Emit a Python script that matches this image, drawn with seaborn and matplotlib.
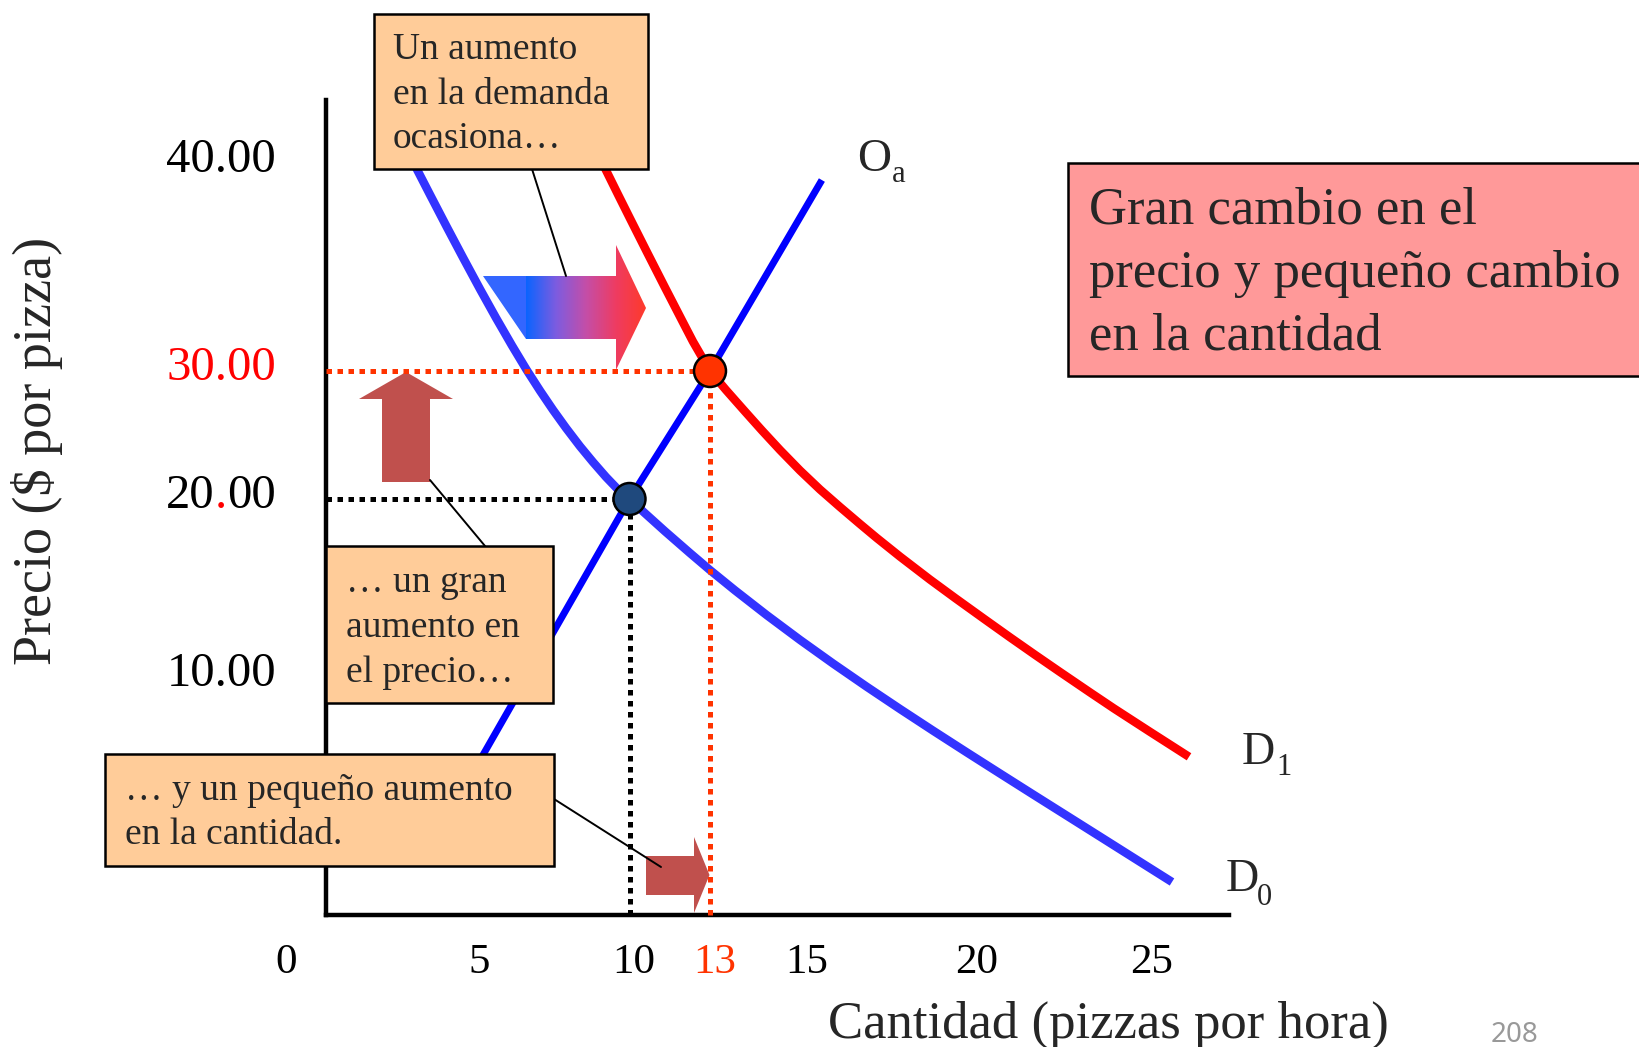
import numpy as np
import matplotlib
matplotlib.use('Agg')
import matplotlib.pyplot as plt
from matplotlib.colors import LinearSegmentedColormap
from matplotlib.patches import Polygon, Rectangle
from matplotlib.transforms import Affine2D
import seaborn as sns

# Values: quantity (pizzas per hour) and price ($ per pizza)
d0_qty = [2.727, 3.108, 3.502, 4.064, 4.613, 5.177, 5.694, 6.210, 6.684, 7.113, 7.532,
          7.952, 8.403, 8.823, 9.242, 9.629, 10.0, 10.578, 11.323, 12.255, 13.0, 13.541,
          14.226, 14.946, 15.906, 16.888, 17.868, 18.847, 19.829, 20.786, 21.737, 22.691,
          23.643, 24.671, 25.700]
d0_price = [40.625, 39.567, 38.476, 36.933, 35.452, 33.938, 32.553, 31.221, 30.048, 28.461,
            26.961, 25.547, 24.117, 22.883, 21.719, 20.742, 20.0, 19.197, 18.185, 16.961,
            16.006, 14.865, 13.478, 12.084, 10.747, 9.592, 8.655, 7.739, 6.836, 5.945,
            5.059, 4.176, 3.294, 2.340, 1.387]

d1_qty = [8.919, 9.265, 9.629, 10.019, 10.652, 11.323, 11.994, 12.366, 13.0, 13.346, 13.757,
          14.124, 14.514, 14.946, 15.515, 16.103, 16.691, 17.185, 17.868, 18.750, 19.512,
          20.357, 21.071, 21.786, 22.5, 23.357, 24.043, 25.071, 26.186]
d1_price = [40.625, 39.582, 38.486, 37.332, 35.712, 34.014, 32.337, 31.413, 30.0, 28.516,
            26.836, 25.352, 23.828, 22.227, 20.742, 19.551, 18.596, 17.809, 16.764, 15.472,
            14.404, 13.230, 12.230, 11.247, 10.281, 9.353, 8.676, 7.697, 6.647]

oa_qty = [4.61, 10.0, 13.0, 15.57]
oa_price = [5.25, 20.0, 30.0, 39.18]

eq_qty = [10, 13]
eq_price = [20, 30]
eq_names = ['inicial', 'final']

x_ticks = [0, 5, 10, 13, 15, 20, 25]
x_tick_labels = ['0', '5', '10', '13', '15', '20', '25']
x_tick_colors = ['black', 'black', 'black', '#ff3300', 'black', 'black', 'black']
y_ticks = [10, 20, 30, 40]
y_tick_labels = ['10.00', '20.00', '30.00', '40.00']
y_tick_colors = ['black', 'black', '#ff0000', 'black']

# Canvas size and where the tick values sit on the slide (the drawing is not to scale)
W, H = 1639, 1047
X_PX = [326, 474.5, 629.5, 710, 802.5, 972.5, 1147.5]
Y_PX = [915, 677, 499, 371, 163]

sns.set_style('white')
plt.rcParams['font.family'] = ['Liberation Serif', 'DejaVu Serif']


def lin_ext(v, xs, ys):
    # piecewise linear with straight extrapolation at both ends
    v = np.asarray(v, dtype=float)
    xs = np.asarray(xs, dtype=float)
    ys = np.asarray(ys, dtype=float)
    out = np.interp(v, xs, ys)
    lo = (ys[1] - ys[0]) / (xs[1] - xs[0])
    hi = (ys[-1] - ys[-2]) / (xs[-1] - xs[-2])
    out = np.where(v < xs[0], ys[0] + (v - xs[0]) * lo, out)
    out = np.where(v > xs[-1], ys[-1] + (v - xs[-1]) * hi, out)
    return out


y_up = [H - p for p in Y_PX]
fx = lambda v: lin_ext(v, x_ticks, X_PX)
fx_inv = lambda p: lin_ext(p, X_PX, x_ticks)
fy = lambda v: lin_ext(v, [0] + y_ticks, y_up)
fy_inv = lambda p: lin_ext(p, y_up, [0] + y_ticks)

fig = plt.figure(figsize=(W / 100, H / 100), dpi=100)
ax = fig.add_axes([0, 0, 1, 1])
ax.set_facecolor('white')

# Curves
sns.lineplot(x=d0_qty, y=d0_price, ax=ax, color='#3333ff', linewidth=6.1, sort=False,
             estimator=None, solid_capstyle='butt', solid_joinstyle='round', zorder=2)
sns.lineplot(x=d1_qty, y=d1_price, ax=ax, color='#ff0000', linewidth=6.1, sort=False,
             estimator=None, solid_capstyle='butt', solid_joinstyle='round', zorder=2)
sns.lineplot(x=oa_qty, y=oa_price, ax=ax, color='#0000ff', linewidth=5.0, sort=False,
             estimator=None, solid_capstyle='butt', zorder=3)

# Dotted guides to the axes
dots = (0, (1.1, 1.1))
for q, p, c in zip(eq_qty, eq_price, ['black', '#ff3300']):
    ax.plot([0, q], [p, p], color=c, lw=3.6, ls=dots, dash_capstyle='butt', zorder=4)
    ax.plot([q, q], [0, p], color=c, lw=3.6, ls=dots, dash_capstyle='butt', zorder=4)

sns.scatterplot(x=eq_qty, y=eq_price, hue=eq_names, palette=['#1f497d', '#ff3300'], s=530,
                edgecolor='black', linewidth=1.8, legend=False, zorder=5, ax=ax)

ax.set_xscale('function', functions=(fx, fx_inv))
ax.set_yscale('function', functions=(fy, fy_inv))
ax.set_xlim(float(fx_inv(0)), float(fx_inv(W)))
ax.set_ylim(float(fy_inv(0)), float(fy_inv(H)))
ax.set_xticks([])
ax.set_yticks([])
ax.set_xlabel('')
ax.set_ylabel('')

for side in ['top', 'right']:
    ax.spines[side].set_visible(False)
for side in ['left', 'bottom']:
    ax.spines[side].set_position(('data', 0))
    ax.spines[side].set_linewidth(3.2)
    ax.spines[side].set_color('black')
    ax.spines[side].set_capstyle('projecting')
ax.spines['left'].set_bounds(0, float(fy_inv(H - 99.5)))
ax.spines['bottom'].set_bounds(0, float(fx_inv(1229)))

# Tick labels
for v, lab, col in zip(x_ticks, x_tick_labels, x_tick_colors):
    dx = -39.5 if v == 0 else 4.5
    ax.annotate(lab, xy=(v, 0), xytext=(dx, -58), textcoords='offset pixels',
                ha='center', va='baseline', fontsize=31, color=col)

for v, lab, col in zip(y_ticks, y_tick_labels, y_tick_colors):
    if lab == '20.00':
        t = ax.annotate('00', xy=(0, v), xytext=(-50, -8.5), textcoords='offset pixels',
                        ha='right', va='baseline', fontsize=35, color=col)
        t = ax.annotate('.', xy=(0, 0), xycoords=t, ha='right', va='bottom',
                        fontsize=35, color='#ff0000')
        ax.annotate('20', xy=(0, 0), xycoords=t, ha='right', va='bottom',
                    fontsize=35, color=col)
    else:
        ax.annotate(lab, xy=(0, v), xytext=(-50, -8.5), textcoords='offset pixels',
                    ha='right', va='baseline', fontsize=35, color=col)

# Slide decorations, in pixel coordinates (y down)
PX = Affine2D().scale(1 / W, -1 / H).translate(0, 1) + ax.transAxes


def label(x, y, s, size, **kw):
    ax.text(x, y, s, transform=PX, fontsize=size, va='baseline', zorder=7, clip_on=False, **kw)


def box(x0, y0, x1, y1, fc):
    ax.add_patch(Rectangle((x0, y0), x1 - x0, y1 - y0, transform=PX, fc=fc, ec='black',
                           lw=1.8, zorder=6, clip_on=False))


def leader(p0, p1):
    ax.plot([p0[0], p1[0]], [p0[1], p1[1]], transform=PX, color='black', lw=1.4, zorder=6)


brick = '#c0504d'
ax.add_patch(Polygon([(382, 482), (430, 482), (430, 399), (453, 399), (406, 372),
                      (359, 399), (382, 399)], transform=PX, fc=brick, ec='none', zorder=1))
ax.add_patch(Polygon([(646, 856), (694, 856), (694, 837), (709.5, 875), (694, 913),
                      (694, 895), (646, 895)], transform=PX, fc=brick, ec='none', zorder=1))

# demand shift arrow with a blue to red gradient
ax.add_patch(Polygon([(483, 276), (526, 276), (526, 339)], transform=PX,
                     fc='#3366ff', ec='none', zorder=1))
head = Polygon([(526, 276), (616, 276), (616, 245), (646, 308), (616, 370), (616, 339),
                (526, 339)], transform=PX, fc='none', ec='none')
ax.add_patch(head)
shift_cmap = LinearSegmentedColormap.from_list(
    'shift', ['#0a64ff', '#7d5ce0', '#c44ea8', '#ee3c62', '#ff3a2a'])
grad = ax.imshow(np.linspace(0, 1, 256)[None, :], cmap=shift_cmap, aspect='auto',
                 extent=(526, 646, 370, 245), transform=PX, zorder=1,
                 interpolation='bilinear')
grad.set_clip_path(head)

leader((532, 169), (566, 276))
leader((430, 480), (485, 546))
leader((554, 799), (661, 867))

box(373.5, 13.5, 647.5, 169, '#ffcc99')
label(393, 59, 'Un aumento', 27)
label(393, 103.5, 'en la demanda', 27)
label(393, 147.5, 'ocasiona…', 27)

box(326, 546, 553, 703, '#ffcc99')
label(346, 592, '… un gran', 27)
label(346, 637, 'aumento en', 27)
label(346, 682, 'el precio…', 27)

box(105, 754, 554, 866, '#ffcc99')
label(125, 800.5, '… y un pequeño aumento', 27)
label(125, 844, 'en la cantidad.', 27)

box(1068, 162.5, 1660, 376, '#ff9999')
label(1089, 223, 'Gran cambio en el', 38)
label(1089, 287, 'precio y pequeño cambio', 38)
label(1089, 350, 'en la cantidad', 38)

# curve names
label(857, 171, 'O', 34)
label(892, 182, 'a', 22)
label(1242, 764, 'D', 33)
label(1276, 775, '1', 22)
label(1226, 891, 'D', 33)
label(1257, 905, '0', 22)

ax.text(37, 451, 'Precio ($ por pizza)', transform=PX, rotation=90, fontsize=39,
        ha='center', va='center')
ax.text(1108, 1038, 'Cantidad (pizzas por hora)', transform=PX, fontsize=38,
        ha='center', va='baseline')
ax.text(1514, 1042, '208', transform=PX, fontsize=20, color='#999999', ha='center',
        va='baseline', family=['Noto Sans', 'DejaVu Sans'])

fig.savefig('out.png', dpi=100)
